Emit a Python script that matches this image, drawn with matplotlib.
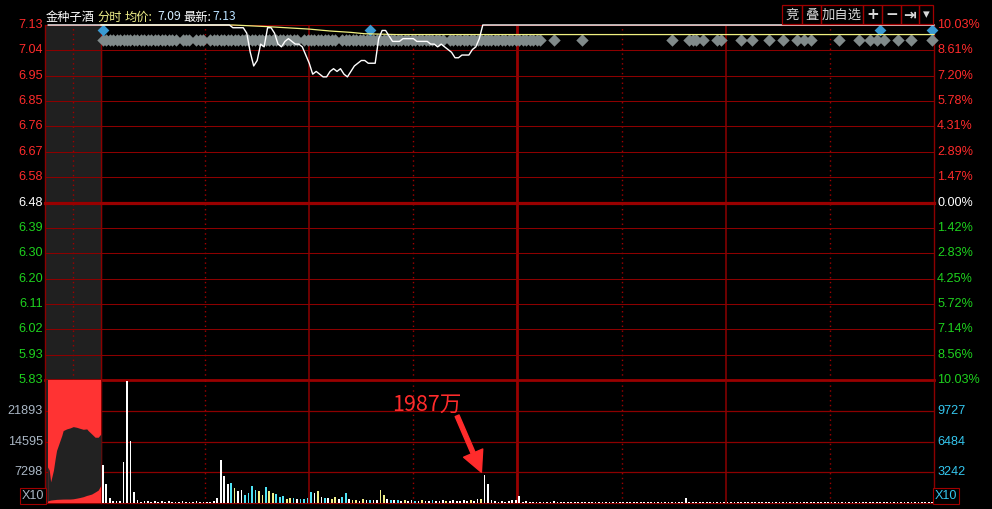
import matplotlib.pyplot as plt
from matplotlib.patches import Rectangle

plt.rcParams['font.family'] = ['Liberation Sans', 'DejaVu Sans']
CJK = ['Noto Sans CJK SC', 'DejaVu Sans']

# ---- data ----
prev_close = 6.48
limit_up = 7.13

price_labels = ["7.13", "7.04", "6.95", "6.85", "6.76", "6.67", "6.58", "6.48",
                "6.39", "6.30", "6.20", "6.11", "6.02", "5.93", "5.83"]
pct_labels = ["10.03%", "8.61%", "7.20%", "5.78%", "4.31%", "2.89%", "1.47%", "0.00%",
              "1.42%", "2.83%", "4.25%", "5.72%", "7.14%", "8.56%", "10.03%"]

vol_grid = [7298, 14595, 21893]
vol_top = 29191
vol_right_labels = ["3242", "6484", "9727"]

# minute (0 = 9:30) and price of the intraday line
price_t = [-15.2, 0, 37, 38, 39, 40, 41, 42, 43, 44, 45, 46, 47, 48, 49, 50, 51, 52, 53, 54,
           55, 56, 57, 58, 59, 60, 61, 62, 63, 64, 65, 66, 67, 68, 69, 70, 71, 72, 73, 74,
           75, 76, 77, 78, 79, 80, 81, 82, 83, 84, 85, 86, 87, 88, 89, 90, 91, 92, 93, 94,
           95, 96, 97, 98, 99, 100, 101, 102, 103, 104, 105, 106, 107, 108, 109, 110, 240]
price_v = [7.13, 7.13, 7.13, 7.12, 7.12, 7.12, 7.12, 7.10, 7.03, 6.98, 7.00, 7.06, 7.05, 7.12, 7.12, 7.10, 7.06, 7.05, 7.07, 7.08,
           7.07, 7.06, 7.06, 7.05, 7.02, 6.99, 6.95, 6.96, 6.95, 6.94, 6.94, 6.96, 6.97, 6.96, 6.97, 6.95, 6.94, 6.96, 6.98, 6.99,
           7.00, 7.00, 6.99, 6.99, 6.99, 7.08, 7.11, 7.11, 7.09, 7.07, 7.07, 7.07, 7.08, 7.08, 7.08, 7.08, 7.07, 7.07, 7.07, 7.07,
           7.06, 7.06, 7.05, 7.06, 7.05, 7.04, 7.03, 7.01, 7.01, 7.02, 7.02, 7.02, 7.04, 7.05, 7.08, 7.13, 7.13]

avg_t = [0, 38, 48, 60, 66, 72, 76, 85, 240]
avg_v = [7.13, 7.13, 7.124, 7.115, 7.108, 7.103, 7.098, 7.095, 7.095]

# signal markers above the line
gray_runs = [(0, 21), (23, 25), (27, 29), (31, 56), (58, 67), (69, 98), (100, 126)]
gray_single = [130, 138, 164, 169, 170, 171, 173, 177, 178, 184, 187, 192, 196,
               200, 202, 204, 212, 218, 221, 223, 225, 229, 233, 239]
blue_marks = [0, 77, 224, 239]

# per-minute volume, morning (0..121) and afternoon (122..239)
vol_am = [8950, 4470, 1180, 470, 470, 470, 9650, 28950, 14830, 2590,
          710, 350, 470, 470, 240, 470, 350, 470, 350, 470,
          350, 240, 350, 470, 350, 240, 350, 470, 240, 350,
          240, 350, 470, 1180, 10120, 6360, 4470, 4710, 3530, 2830,
          3060, 1880, 2430, 4000, 3060, 2830, 1880, 3770, 2830, 2350,
          2120, 1410, 1650, 940, 1240, 1100, 860, 860, 860, 1100,
          2670, 2280, 2830, 1410, 1260, 1100, 860, 1410, 860, 1410,
          2350, 860, 710, 710, 470, 940, 710, 710, 710, 710,
          3060, 1880, 940, 710, 710, 710, 470, 710, 470, 710,
          470, 470, 710, 470, 470, 710, 470, 470, 710, 470,
          470, 710, 470, 470, 710, 470, 710, 470, 940, 940,
          6590, 4470, 710, 470, 240, 470, 240, 470, 710, 710,
          1650, 350]
am_colors = ("wwwwwwwwww" "wwwwwwwwww" "wwwwwwwwww" "wwwwwwwcyw"
             "wccccyycyy" "cccyycwccc" "cwywcwyywc" "cwyywywcww"
             "yywcwcwyww" "cwywwcwwwy" "wwwwwwywwy" "wwwwwwwwww" "ww")
vol_pm = [470, 240, 350, 240, 240, 350, 240, 240, 470, 240,
          240, 350, 240, 240, 240, 350, 240, 240, 240, 350,
          240, 240, 350, 240, 240, 240, 240, 350, 240, 240,
          240, 350, 240, 240, 240, 240, 350, 240, 240, 240,
          240, 350, 240, 240, 240, 350, 1180, 240, 240, 350,
          240, 240, 240, 350, 240, 240, 240, 240, 350, 240,
          240, 240, 350, 240, 240, 240, 240, 350, 240, 240,
          240, 240, 350, 240, 240, 240, 240, 350, 240, 240,
          240, 240, 240, 350, 240, 240, 240, 240, 350, 240,
          240, 240, 240, 350, 240, 240, 240, 240, 350, 240,
          240, 240, 240, 350, 240, 240, 240, 240, 350, 240,
          240, 240, 240, 350, 240, 240, 240, 240]

# call auction block (pre-market column)
auction_t = [-15.36, -14.9, -14.5, -13.7, -13.2, -12.8, -12.3, -11.8, -11.3, -10.9,
             -9.9, -8.9, -8.0, -7.0, -6.1, -5.1, -4.1, -3.7, -2.7, -1.7, -0.8, 0]
auction_hi = [8545, 7768, 5014, 7768, 10522, 12476, 13653, 14830, 16007, 17184,
              17584, 17820, 18126, 17961, 17726, 17490, 17584, 17184, 16407, 15607, 15607, 16407]
auction_lo = [471, 600, 700, 780, 820, 863, 880, 900, 920, 930,
              942, 942, 1000, 1150, 1300, 1500, 1800, 1883, 2119, 2600, 3060, 4237]

# ---- style ----
W, H = 992, 509
RED = '#8c0000'
BRIGHT = '#ff2b2b'
GREEN = '#1ed21e'
BAR_COL = {'w': '#ffffff', 'c': '#4fe3f5', 'y': '#f0f08a'}
t0 = -16.13


def fx(x):
    return x / W


def fy(y):
    return 1 - y / H


fig = plt.figure(figsize=(W / 100, H / 100), dpi=100, facecolor='black')
ax_p = fig.add_axes([fx(45), fy(380), (934 - 45) / W, (380 - 25) / H])
ax_v = fig.add_axes([fx(45), fy(503), (934 - 45) / W, (503 - 380) / H])

step = (limit_up - prev_close) / 7
levels = [prev_close + step * k for k in range(7, -8, -1)]

ax_p.set_ylim(levels[-1], levels[0])
ax_v.set_ylim(0, vol_top)
for ax in (ax_p, ax_v):
    ax.set_xlim(t0, 240)
    ax.axis('off')
    ax.axvspan(t0, 0, color='#202020', zorder=0)
    for t in [-8, 30, 90, 150, 210]:
        ax.axvline(t, color='#a00000', lw=1.0, ls=(0, (1, 2.5)), zorder=1)
    for t in [60, 180]:
        ax.axvline(t, color=RED, lw=1.1, zorder=1)
    ax.axvline(120, color='#990000', lw=2.0, zorder=1)
    for t in [t0, 0, 240]:
        ax.axvline(t, color=RED, lw=1.0, zorder=1, clip_on=False)

# price panel grid and labels
for k, (lvl, lab, pct) in enumerate(zip(levels, price_labels, pct_labels)):
    lw = 0.75
    if k == 7:
        lw = 2.3
    elif k == 14:
        lw = 2.0
    ax_p.axhline(lvl, color='#990000' if lw > 1 else RED, lw=lw, zorder=1, clip_on=False)
    col = BRIGHT if k < 7 else ('#ffffff' if k == 7 else GREEN)
    ax_p.text(-0.0025, lvl, lab, transform=ax_p.get_yaxis_transform(), ha='right',
              va='center', color=col, fontsize=9.1)
    ax_p.text(1.0035, lvl, pct, transform=ax_p.get_yaxis_transform(), ha='left',
              va='center', color=col, fontsize=9.1)

# markers
gray_t = []
for a, b in gray_runs:
    gray_t += list(range(a, b + 1))
gray_t += gray_single
ax_p.scatter([t + 0.5 for t in gray_t], [7.076] * len(gray_t), marker='D', s=40,
             color='#808a8a', lw=0, zorder=3, clip_on=False)
ax_p.scatter([t + 0.5 for t in blue_marks], [7.113] * len(blue_marks), marker='D', s=36,
             color='#3a9ad2', lw=0, zorder=3, clip_on=False)

ax_p.plot(avg_t, avg_v, color='#f0f080', lw=0.9, zorder=4, clip_on=False)
ax_p.plot(price_t, price_v, color='white', lw=1.0, zorder=5, clip_on=False)

# volume panel
for v in vol_grid:
    ax_v.axhline(v, color=RED, lw=0.9, zorder=1)
ax_v.axhline(0, color=RED, lw=0.9, zorder=1, clip_on=False)

ax_v.fill_between(auction_t, 0, vol_top, color='#ff3333', lw=0, zorder=2)
ax_v.fill_between(auction_t, auction_lo, auction_hi, color='#222222', lw=0, zorder=2)

vols = vol_am + vol_pm
cols = [BAR_COL[c] for c in am_colors] + [BAR_COL['w']] * len(vol_pm)
ax_v.bar([i + 0.5 for i in range(len(vols))], vols, width=0.5, color=cols, lw=0, zorder=3)

for v, lab in zip(vol_grid, ["7298", "14595", "21893"]):
    ax_v.text(-0.0025, v, lab, transform=ax_v.get_yaxis_transform(), ha='right',
              va='center', color='#a9b6c4', fontsize=9.1)
for v, lab in zip(vol_grid, vol_right_labels):
    ax_v.text(1.0035, v, lab, transform=ax_v.get_yaxis_transform(), ha='left',
              va='center', color='#34c6ee', fontsize=9.1)

fig.text(fx(33), fy(496), "X10", ha='center', va='center', color='#a9b6c4', fontsize=9.1,
         bbox=dict(boxstyle='square,pad=0.15', fc='black', ec='#a00000', lw=0.8))
fig.text(fx(946), fy(496), "X10", ha='center', va='center', color='#34c6ee', fontsize=9.1,
         bbox=dict(boxstyle='square,pad=0.15', fc='black', ec='#a00000', lw=0.8))

# annotation of the re-seal volume
ax_v.text(83.8, 21890, "1987万", color=BRIGHT, fontsize=15.5, family=CJK, va='baseline', ha='left')
ax_v.annotate('', xy=(109.6, 7300), xytext=(102.6, 20700),
              arrowprops=dict(arrowstyle='simple,head_length=1.5,head_width=1.5,tail_width=0.3',
                              fc=BRIGHT, ec=BRIGHT, mutation_scale=10, shrinkA=0, shrinkB=0))

# header
hdr = [(46, "金种子酒", '#ffffff'), (97, "分时", '#f0f08a'), (125, "均价:", '#f0f08a'),
       (157, "7.09", '#d2ecff'), (183, "最新:", '#ffffff'), (212, "7.13", '#b8e0ff')]
for x, s, c in hdr:
    fig.text(fx(x), fy(17), s, ha='left', va='center', color=c, fontsize=8.8, family=CJK)

# toolbar buttons
edges = [782, 802, 821, 863, 882, 901, 919, 933]
names = ["竞", "叠", "加自选", "+", "−", "⇥", "▾"]
for i, name in enumerate(names):
    x0, x1 = edges[i], edges[i + 1]
    fig.patches.append(Rectangle((fx(x0), fy(24)), (x1 - x0) / W, 19 / H,
                                 transform=fig.transFigure, fill=False, ec='#a00000', lw=0.9))
    bold = name in ("+", "−", "⇥")
    fig.text(fx((x0 + x1) / 2), fy(14.5), name, ha='center', va='center', color='#d8d8d8',
             fontsize=9.6 if not bold else 11, family=CJK if i < 3 else ['DejaVu Sans'],
             fontweight='bold' if bold else 'normal')

fig.savefig('out.png', dpi=100, facecolor='black')
